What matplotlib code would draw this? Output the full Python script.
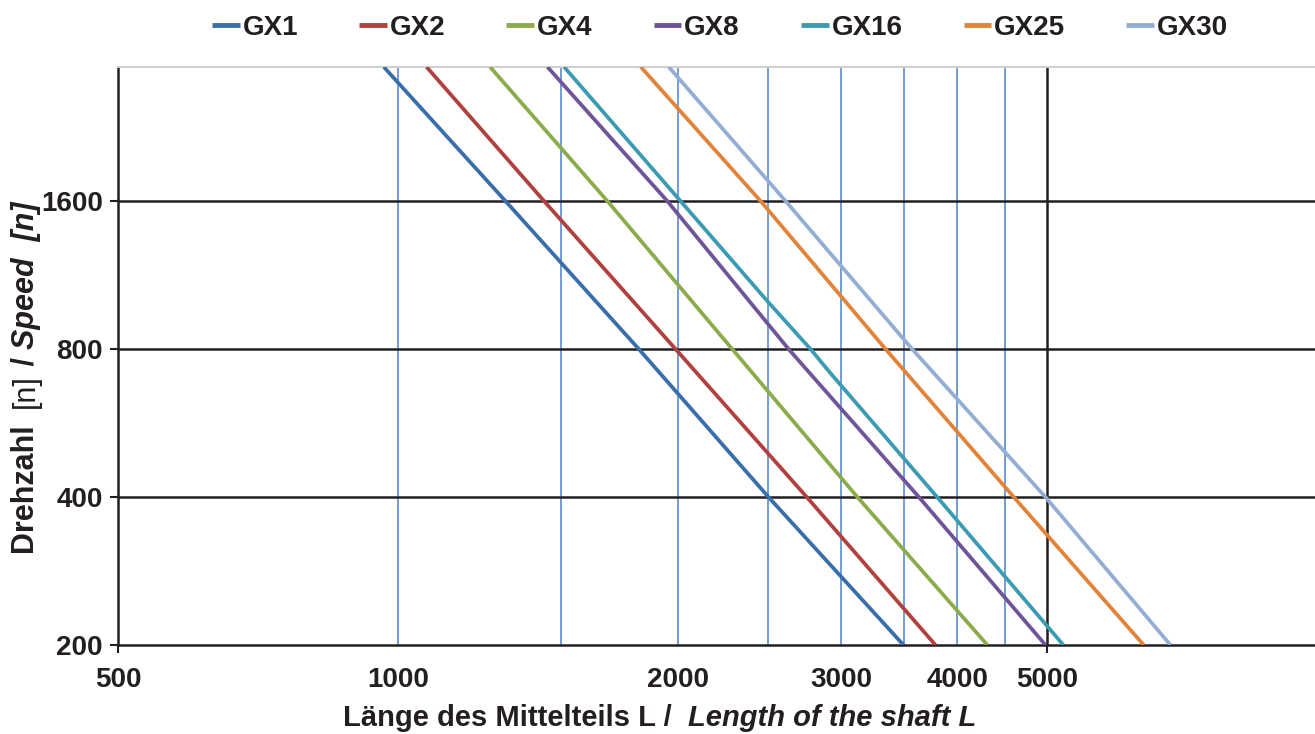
import matplotlib
matplotlib.use("Agg")
import matplotlib.pyplot as plt
from matplotlib.ticker import FixedLocator, NullFormatter, FixedFormatter

plt.rcParams['font.family'] = ['Liberation Sans', 'DejaVu Sans']

# Daten - Drehzahl n ueber Laenge L
speed = [3000, 1600, 800, 400, 200]
gx1 = [966, 1306, 1817, 2505, 3500]
gx2 = [1074, 1437, 1990, 2754, 3788]
gx4 = [1257, 1681, 2290, 3122, 4308]
gx8 = [1449, 1950, 2633, 3636, 4975]
gx16_speed = [3000, 1600, 1000, 800, 714, 400, 200]
gx16 = [1510, 2015, 2500, 2780, 2922, 3804, 5200]
gx25 = [1826, 2457, 3348, 4599, 6346]
gx30 = [1957, 2614, 3576, 4975, 6780]

names = ["GX1", "GX2", "GX4", "GX8", "GX16", "GX25", "GX30"]
colors = ["#3A6EA8", "#B0413E", "#8CAC4B", "#6E5597", "#3C9BB1", "#E1843A", "#94AED3"]

x_ticks = [500, 1000, 2000, 3000, 4000, 5000]
blue_grid = [1000, 1500, 2000, 2500, 3000, 3500, 4000, 4500]
y_ticks = [200, 400, 800, 1600]

fig = plt.figure(figsize=(13.15, 7.34), dpi=100)
ax = fig.add_axes([118 / 1315, 1 - 645 / 734, 1 - 118 / 1315, (645 - 67) / 734])
ax.set_xscale("log")
ax.set_yscale("log")
ax.set_xlim(500, 9700)
ax.set_ylim(200, 3000)

# Gitter
for gx in blue_grid:
    ax.axvline(gx, color="#5B8DCB", lw=1.2, zorder=1)
ax.axvline(5000, color="#231F20", lw=1.8, zorder=1)
for gy in y_ticks[1:]:
    ax.axhline(gy, color="#231F20", lw=1.8, zorder=1)

series = [(speed, gx1), (speed, gx2), (speed, gx4), (speed, gx8),
          (gx16_speed, gx16), (speed, gx25), (speed, gx30)]
for (ys, xs), name, c in zip(series, names, colors):
    ax.plot(xs, ys, color=c, lw=2.7, label=name, zorder=3, solid_capstyle="butt")

# Achsen
ax.spines["right"].set_visible(False)
ax.spines["top"].set_color("#D0D0D0")
ax.spines["top"].set_linewidth(1.5)
ax.spines["left"].set_color("#231F20")
ax.spines["left"].set_linewidth(1.8)
ax.spines["bottom"].set_color("#231F20")
ax.spines["bottom"].set_linewidth(1.8)

ax.xaxis.set_major_locator(FixedLocator([500, 5000]))
ax.xaxis.set_major_formatter(FixedFormatter(["500", "5000"]))
ax.xaxis.set_minor_locator(FixedLocator(x_ticks[1:-1]))
ax.xaxis.set_minor_formatter(FixedFormatter([str(v) for v in x_ticks[1:-1]]))
ax.tick_params(axis="x", which="major", length=6, width=1.5, color="#231F20", pad=10)
ax.tick_params(axis="x", which="minor", length=0, pad=16)

ax.yaxis.set_major_locator(FixedLocator(y_ticks))
ax.yaxis.set_major_formatter(FixedFormatter([str(v) for v in y_ticks]))
ax.yaxis.set_minor_formatter(NullFormatter())
ax.yaxis.set_minor_locator(FixedLocator([]))
ax.tick_params(axis="y", which="major", length=6, width=1.5, color="#231F20", pad=5)

for lab in ax.get_xticklabels(which="both") + ax.get_yticklabels():
    lab.set_fontweight("bold")
    lab.set_fontsize(20)
    lab.set_color("#231F20")

# Achsentitel (gemischte Schnitte)
fs_lab = 21
t1 = fig.text(343 / 1315, 8 / 734, "Länge des Mittelteils L /  ", fontsize=fs_lab,
              fontweight="bold", color="#231F20", ha="left", va="baseline")
ax.annotate("Length of the shaft L", xy=(1, 8 / 734), xycoords=(t1, "figure fraction"),
            fontsize=fs_lab, fontweight="bold", fontstyle="italic", color="#231F20",
            ha="left", va="baseline")

yb = 34 / 1315
fs_ylab = 22
parts = [("Drehzahl  ", "bold", "normal"), ("[n]", "normal", "normal"),
         (" / ", "bold", "normal"), ("Speed  [n]", "bold", "italic")]
prev = None
for txt, w, st in parts:
    if prev is None:
        prev = fig.text(yb, 1 - 554 / 734, txt, rotation=90, rotation_mode="anchor",
                        fontsize=fs_ylab, fontweight=w, fontstyle=st, color="#231F20",
                        ha="left", va="baseline")
    else:
        prev = ax.annotate(txt, xy=(yb, 1), xycoords=("figure fraction", prev),
                           rotation=90, rotation_mode="anchor", fontsize=fs_ylab,
                           fontweight=w, fontstyle=st, color="#231F20",
                           ha="left", va="baseline")

leg = fig.legend(loc="center", bbox_to_anchor=(720 / 1315, 1 - 28 / 734), ncol=7,
                 frameon=False, handlelength=1.0, handletextpad=0.1, columnspacing=2.2,
                 prop={"weight": "bold", "size": 20})
for h in leg.get_lines():
    h.set_linewidth(3.5)
for t in leg.get_texts():
    t.set_color("#231F20")

fig.savefig("out.png", dpi=100)
